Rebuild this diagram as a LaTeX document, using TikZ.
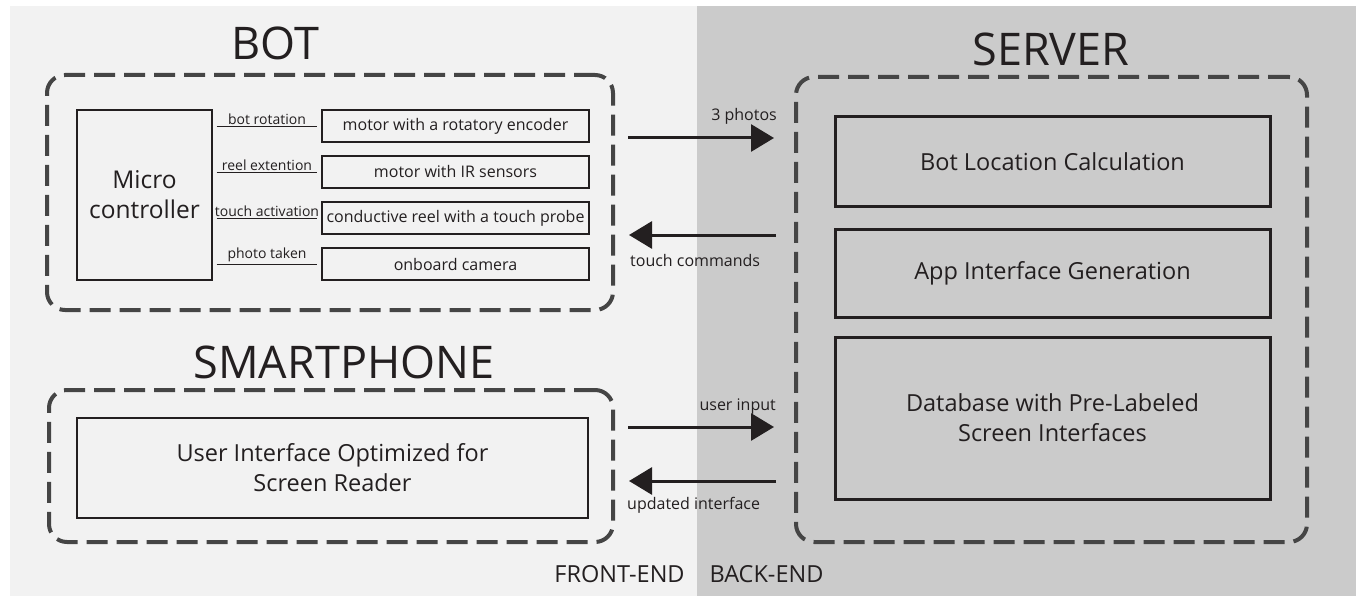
\documentclass[tikz,border=0pt]{standalone}
\usepackage{fontspec}
\setmainfont{Open Sans}
\usetikzlibrary{arrows.meta}

\definecolor{frontgray}{HTML}{F2F2F2}
\definecolor{backgray}{HTML}{CBCBCB}
\definecolor{dashgray}{HTML}{454545}
\definecolor{inkblack}{HTML}{231F20}

\tikzset{group box/.style={
    	draw=dashgray, line width=4pt, dash pattern=on 21pt off 9pt,
    	rounded corners=18pt, inner sep=0pt
  	},
  	part box/.style={
    	draw=inkblack, line width=1.3pt, inner sep=0pt, align=center,
    	text=inkblack, font=\fontsize{16}{19}\selectfont
  	},
  	block box/.style={
    	draw=inkblack, line width=3pt, inner sep=0pt, align=center,
    	text=inkblack, font=\fontsize{23.5}{30}\selectfont
  	},
  	group title/.style={text=inkblack, font=\fontsize{45}{52}\selectfont},
  	signal line/.style={inkblack, line width=0.9pt, shorten <=4pt, shorten >=4pt},
  	flow arrow/.style={inkblack, line width=3pt, -{Triangle[length=23pt, width=27pt]}},
  	flow label/.style={text=inkblack, inner sep=0pt, font=\fontsize{16}{19}\selectfont}
}

\begin{document}
\begin{tikzpicture}[x=1pt, y=-1pt]
		% backgrounds
		\fill [white] (0,0) rectangle (1356,596);
		\fill [frontgray] (10,6) rectangle (697,596);
		\fill [backgray] (697,6) rectangle (1356,596);

		% groups
		\node [group box, minimum width=566pt, minimum height=235pt] (bot) at (330,192.5) {};
		\node [group box, minimum width=564pt, minimum height=152pt] (phone) at (331,466) {};
		\node [group box, minimum width=511pt, minimum height=465pt] (server) at (1051.5,309.5) {};
		\node [group title] (bottitle) at (275,43) {BOT};
		\node [group title] (phonetitle) at (344,362) {SMARTPHONE};
		\node [group title] (servertitle) at (1051,49) {SERVER};

		% bot parts
		\node [part box, minimum width=135pt, minimum height=170pt, font=\fontsize{24.5}{30}\selectfont]
			(micro) at (144.5,195) {Micro\\controller};
		\foreach \name/\signal/\part [count=\i from 0] in {
				rot/bot rotation/motor with a rotatory encoder,
				reel/reel extention/motor with IR sensors,
				touch/touch activation/conductive reel with a touch probe,
				cam/photo taken/onboard camera}
		{
			\node [part box, minimum width=267pt, minimum height=32pt] (\name) at (455.5,{126+46*\i}) {\part};
			\draw [signal line] (micro.east |- \name.west) -- (\name.west)
				node [midway, above, inner sep=1.2pt, text=inkblack, font=\fontsize{14}{16}\selectfont] {\signal};
		}

		% smartphone
		\node [part box, line width=1.4pt, minimum width=511pt, minimum height=100pt, font=\fontsize{23.5}{30}\selectfont]
			(ui) at (332.5,468) {User Interface Optimized for\\Screen Reader};

		% server blocks
		\node [block box, minimum width=435pt, minimum height=89pt] (locate) at (1052.5,161.5) {Bot Location Calculation};
		\node [block box, minimum width=435pt, minimum height=88pt] (appgen) at (1052.5,273) {App Interface Generation};
		\node [block box, minimum width=435pt, minimum height=162pt] (labeldb) at (1052.5,418) {Database with Pre-Labeled\\Screen Interfaces};

		% flows
		\draw [flow arrow, shorten <=13pt, shorten >=20pt] (bot.east |- 0,138) -- (server.west |- 0,138);
		\draw [flow arrow, shorten <=18pt, shorten >=14pt] (server.west |- 0,235) -- (bot.east |- 0,235);
		\draw [flow arrow, shorten <=13pt, shorten >=20pt] (phone.east |- 0,427) -- (server.west |- 0,427);
		\draw [flow arrow, shorten <=18pt, shorten >=14pt] (server.west |- 0,481) -- (phone.east |- 0,481);
		\node [flow label, anchor=east] (photolbl) at (777,116) {3 photos};
		\node [flow label, anchor=west] (touchlbl) at (630,260) {touch commands};
		\node [flow label, anchor=east] (inputlbl) at (776,407) {user input};
		\node [flow label, anchor=west] (updatelbl) at (627,505) {updated interface};

		% sides
		\node [flow label, font=\fontsize{23.5}{28}\selectfont] (frontlbl) at (619.5,574) {FRONT-END};
		\node [flow label, font=\fontsize{23.5}{28}\selectfont] (backlbl) at (766.5,574) {BACK-END};
	\end{tikzpicture}
\end{document}
